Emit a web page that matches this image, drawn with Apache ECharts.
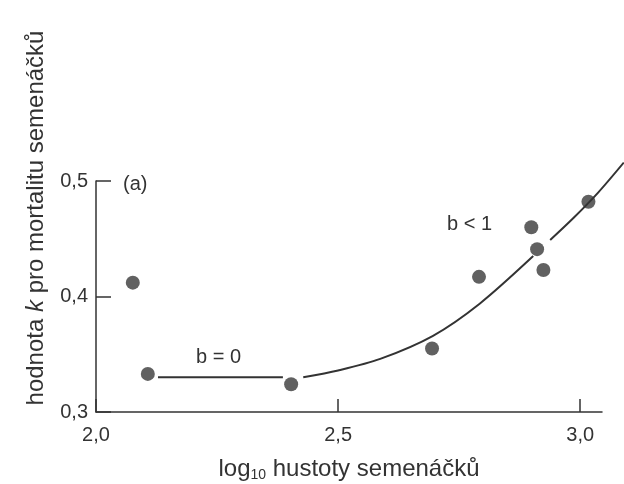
<!DOCTYPE html>
<html>
<head>
<meta charset="utf-8">
<script src="https://cdn.jsdelivr.net/npm/echarts@6/dist/echarts.min.js"></script>
<style>
html,body{margin:0;padding:0;background:#fff;}
#c{width:624px;height:484px;}
</style>
</head>
<body>
<div id="c"></div>
<script>
// Data
var pointX = [2.076, 2.107, 2.403, 2.694, 2.791, 2.899, 2.911, 2.924, 3.017];
var pointY = [0.412, 0.333, 0.324, 0.355, 0.417, 0.460, 0.441, 0.423, 0.482];
var flatX = [2.128, 2.386];
var flatY = [0.330, 0.330];
var curveX = [2.428, 2.500, 2.587, 2.696, 2.793, 2.903, null, 2.938, 2.986, 3.037, 3.090];
var curveY = [0.330, 0.336, 0.346, 0.366, 0.394, 0.435, null, 0.449, 0.468, 0.490, 0.516];
var xTicks = [2.0, 2.5, 3.0];
var yTicks = [0.3, 0.4, 0.5];

function pairs(xs, ys) {
  return xs.map(function (x, i) { return x === null ? [null, null] : [x, ys[i]]; });
}
function fmt(v) { return v.toFixed(1).replace('.', ','); }

var ink = '#333';
var font = 'Liberation Sans, Arial';
// visible axis: 2.0..3.045 over 506 px; overlay grid spans to the right edge with the same scale
var xMax = 3.045;
var pxPerUnit = (624 - 96 - 22) / (xMax - 2.0);
var xMaxWide = 2.0 + (624 - 96) / pxPerUnit;

var chart = echarts.init(document.getElementById('c'), null, {renderer: 'canvas'});
chart.setOption({
  animation: false,
  backgroundColor: '#fff',
  grid: [
    {left: 96, right: 22, top: 181, bottom: 72, containLabel: false, outerBoundsMode: 'none'},
    {left: 96, right: 0, top: 181, bottom: 72, containLabel: false, outerBoundsMode: 'none'}
  ],
  xAxis: [{
    gridIndex: 0, type: 'value', min: 2.0, max: xMax, interval: 0.5,
    axisLine: {lineStyle: {color: ink, width: 1.5}},
    axisTick: {inside: true, length: 13, lineStyle: {color: ink, width: 1.5},
      customValues: xTicks},
    axisLabel: {color: ink, fontSize: 20, fontFamily: font, margin: 13,
      customValues: xTicks, formatter: fmt},
    splitLine: {show: false},
    name: '{a|log}{s|10}{a| hustoty semenáčků}',
    nameLocation: 'middle', nameGap: 44,
    nameTextStyle: {
      rich: {
        a: {fontSize: 24, color: ink, fontFamily: font},
        s: {fontSize: 14, color: ink, fontFamily: font, padding: [12, 0, 0, 0]}
      }
    }
  }, {
    gridIndex: 1, type: 'value', min: 2.0, max: xMaxWide, show: false
  }],
  yAxis: [{
    gridIndex: 0, type: 'value', min: 0.3, max: 0.5, interval: 0.1,
    axisLine: {show: true, lineStyle: {color: ink, width: 1.5}},
    axisTick: {show: true, inside: true, length: 15, lineStyle: {color: ink, width: 1.5},
      customValues: yTicks},
    axisLabel: {color: ink, fontSize: 20, fontFamily: font, margin: 8,
      customValues: yTicks, formatter: fmt},
    splitLine: {show: false}
  }, {
    gridIndex: 1, type: 'value', min: 0.3, max: 0.5, show: false
  }],
  graphic: [
    {type: 'text', x: 36, y: 218, rotation: Math.PI / 2,
      style: {text: '{a|hodnota }{i|k}{a| pro mortalitu semenáčků}', align: 'center', verticalAlign: 'middle',
        rich: {
          a: {fontSize: 24, fill: ink, fontFamily: font},
          i: {fontSize: 24, fill: ink, fontFamily: font, fontStyle: 'italic'}
        }}},
    {type: 'text', x: 123, y: 184, style: {text: '(a)', fontSize: 20, fill: ink,
      fontFamily: font, verticalAlign: 'middle'}},
    {type: 'text', x: 196, y: 357, style: {text: 'b = 0', fontSize: 20, fill: ink,
      fontFamily: font, verticalAlign: 'middle'}},
    {type: 'text', x: 447, y: 224, style: {text: 'b < 1', fontSize: 20, fill: ink,
      fontFamily: font, verticalAlign: 'middle'}}
  ],
  series: [
    {type: 'line', xAxisIndex: 1, yAxisIndex: 1, data: pairs(flatX, flatY), symbol: 'none', clip: false,
      lineStyle: {color: ink, width: 2}},
    {type: 'line', xAxisIndex: 1, yAxisIndex: 1, data: pairs(curveX, curveY), symbol: 'none', smooth: 0.3, clip: false,
      connectNulls: false, lineStyle: {color: ink, width: 2}},
    {type: 'scatter', xAxisIndex: 0, yAxisIndex: 0, data: pairs(pointX, pointY), symbolSize: 14, clip: false,
      itemStyle: {color: '#3a3a3a'}}
  ]
});
</script>
</body>
</html>
